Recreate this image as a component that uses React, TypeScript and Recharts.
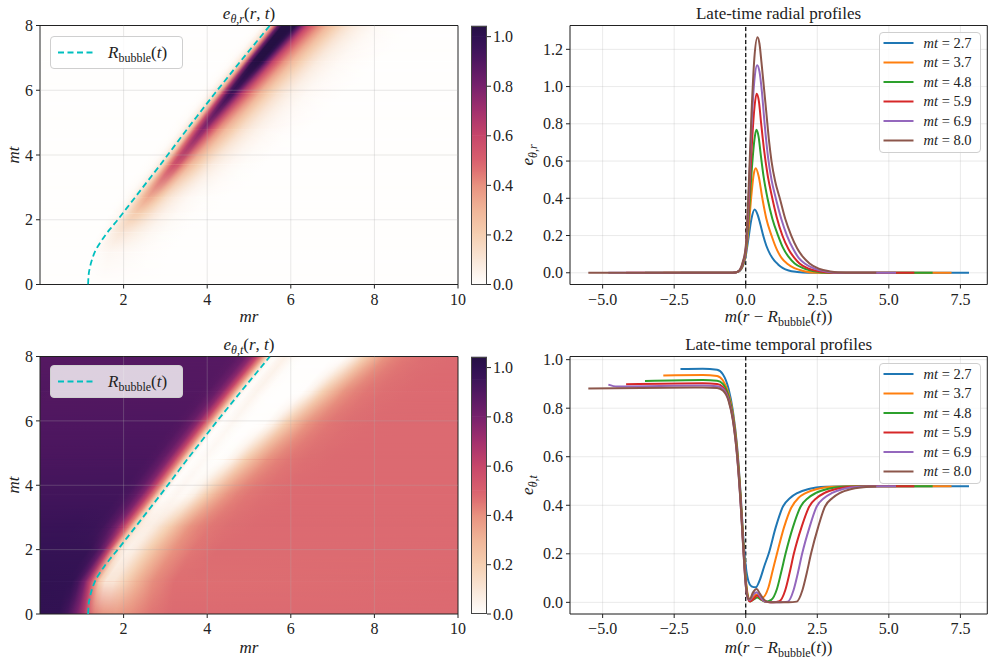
import React from "react";
import {
  ComposedChart,
  LineChart,
  BarChart,
  Bar,
  Line,
  XAxis,
  YAxis,
  CartesianGrid,
  ReferenceArea,
  ReferenceLine,
} from "recharts";

const SERIF = "'Liberation Serif', 'DejaVu Serif', serif";
const INK = "#222222";

// bubble wall trajectory R_bubble(t)
const BUBBLE_T = [0, 0.25, 0.5, 0.75, 1.0, 1.25, 1.5, 1.75, 2.0, 2.35, 2.7, 3.2, 3.7, 4.25, 4.8, 5.35, 5.9, 6.4, 6.9, 7.45, 8.0];
const BUBBLE_R = [1.15, 1.16, 1.19, 1.24, 1.31, 1.42, 1.55, 1.7, 1.86, 2.07, 2.28, 2.58, 2.88, 3.2, 3.52, 3.85, 4.18, 4.49, 4.8, 5.15, 5.5];

const PROFILE_TIMES = [2.7, 3.7, 4.8, 5.9, 6.9, 8.0];
const PROFILE_WALL = [2.28, 2.88, 3.52, 4.18, 4.8, 5.5];
const PROFILE_COLORS = ["#1f77b4", "#ff7f0e", "#2ca02c", "#d62728", "#9467bd", "#8c564b"];

// e_{theta,r} radial profiles vs m(r - R_bubble)
const RAD_X_27 = [-2.28, -0.45, -0.3, -0.2, -0.1, 0, 0.1, 0.2, 0.31, 0.42, 0.52, 0.61, 0.72, 0.85, 1.0, 1.13, 1.3, 1.5, 1.8, 2.2, 7.8];
const RAD_V_27 = [0, 0, 0.004, 0.012, 0.035, 0.09, 0.19, 0.29, 0.34, 0.31, 0.255, 0.2, 0.145, 0.1, 0.065, 0.045, 0.025, 0.012, 0.004, 0, 0];
const RAD_X_37 = [-2.88, -0.45, -0.3, -0.2, -0.1, 0, 0.1, 0.2, 0.28, 0.35, 0.45, 0.58, 0.72, 0.9, 1.1, 1.25, 1.44, 1.7, 2.0, 2.5, 7.19];
const RAD_V_37 = [0, 0, 0.004, 0.013, 0.04, 0.1, 0.24, 0.42, 0.53, 0.562, 0.52, 0.4, 0.29, 0.2, 0.12, 0.08, 0.05, 0.025, 0.01, 0, 0];
const RAD_X_48 = [-3.52, -0.45, -0.3, -0.2, -0.1, 0, 0.1, 0.2, 0.3, 0.37, 0.45, 0.52, 0.62, 0.76, 0.93, 1.13, 1.3, 1.5, 1.71, 2.0, 2.4, 2.9, 6.53];
const RAD_V_48 = [0, 0, 0.004, 0.014, 0.045, 0.11, 0.29, 0.53, 0.71, 0.768, 0.73, 0.64, 0.52, 0.4, 0.29, 0.2, 0.135, 0.085, 0.05, 0.025, 0.008, 0, 0];
const RAD_X_59 = [-4.18, -0.45, -0.3, -0.2, -0.1, 0, 0.1, 0.2, 0.3, 0.38, 0.46, 0.54, 0.64, 0.77, 0.9, 1.08, 1.28, 1.5, 1.7, 1.88, 2.2, 2.6, 3.1, 5.89];
const RAD_V_59 = [0, 0, 0.004, 0.015, 0.05, 0.12, 0.34, 0.65, 0.88, 0.961, 0.92, 0.8, 0.66, 0.52, 0.42, 0.3, 0.2, 0.125, 0.08, 0.05, 0.022, 0.007, 0, 0];
const RAD_X_69 = [-4.8, -0.45, -0.3, -0.2, -0.1, 0, 0.1, 0.2, 0.3, 0.4, 0.48, 0.56, 0.66, 0.78, 0.9, 1.05, 1.24, 1.44, 1.65, 1.85, 2.06, 2.4, 2.8, 3.3, 5.25];
const RAD_V_69 = [0, 0, 0.004, 0.016, 0.055, 0.13, 0.4, 0.78, 1.03, 1.115, 1.08, 0.98, 0.8, 0.62, 0.5, 0.4, 0.29, 0.2, 0.13, 0.08, 0.05, 0.022, 0.007, 0, 0];
const RAD_X_80 = [-5.5, -0.45, -0.3, -0.2, -0.1, 0, 0.1, 0.2, 0.3, 0.41, 0.48, 0.55, 0.62, 0.72, 0.82, 0.9, 1.03, 1.19, 1.38, 1.59, 1.8, 2.0, 2.23, 2.55, 2.95, 3.5, 4.56];
const RAD_V_80 = [0, 0, 0.004, 0.017, 0.06, 0.14, 0.45, 0.85, 1.15, 1.265, 1.23, 1.13, 1.02, 0.86, 0.7, 0.6, 0.49, 0.4, 0.29, 0.2, 0.13, 0.085, 0.05, 0.022, 0.007, 0, 0];

// e_{theta,t} temporal profiles vs m(r - R_bubble)
const TMP_X_27 = [-2.28, -1.5, -1.0, -0.8, -0.6, -0.45, -0.3, -0.18, -0.08, 0, 0.1, 0.2, 0.35, 0.5, 0.65, 0.8, 1.05, 1.3, 1.55, 1.8, 2.2, 2.8, 3.5, 7.8];
const TMP_V_27 = [0.962, 0.963, 0.958, 0.94, 0.88, 0.79, 0.64, 0.45, 0.26, 0.15, 0.085, 0.066, 0.062, 0.095, 0.15, 0.2, 0.31, 0.395, 0.43, 0.45, 0.467, 0.476, 0.478, 0.478];
const TMP_X_37 = [-2.88, -1.5, -1.0, -0.8, -0.6, -0.45, -0.3, -0.18, -0.08, 0, 0.08, 0.15, 0.25, 0.38, 0.5, 0.59, 0.79, 0.94, 1.09, 1.34, 1.59, 1.84, 2.09, 2.49, 3.09, 3.8, 7.19];
const TMP_V_37 = [0.935, 0.937, 0.933, 0.915, 0.86, 0.78, 0.63, 0.44, 0.24, 0.1, 0.025, 0.008, 0.02, 0.032, 0.02, 0.02, 0.06, 0.13, 0.2, 0.31, 0.39, 0.43, 0.45, 0.467, 0.476, 0.478, 0.478];
const TMP_X_48 = [-3.52, -1.5, -1.0, -0.8, -0.6, -0.45, -0.3, -0.18, -0.08, 0, 0.08, 0.15, 0.28, 0.4, 0.55, 0.7, 0.89, 1.09, 1.24, 1.39, 1.65, 1.92, 2.18, 2.44, 2.85, 3.45, 4.2, 6.53];
const TMP_V_48 = [0.912, 0.916, 0.913, 0.9, 0.85, 0.77, 0.62, 0.43, 0.23, 0.09, 0.02, 0.004, 0.012, 0.02, 0.01, 0.002, 0.01, 0.055, 0.125, 0.2, 0.31, 0.395, 0.43, 0.45, 0.467, 0.476, 0.478, 0.478];
const TMP_X_59 = [-4.18, -1.5, -1.0, -0.8, -0.6, -0.45, -0.3, -0.18, -0.08, 0, 0.08, 0.15, 0.28, 0.4, 0.55, 0.75, 0.95, 1.18, 1.38, 1.53, 1.68, 1.95, 2.22, 2.48, 2.74, 3.15, 3.75, 4.5, 5.89];
const TMP_V_59 = [0.899, 0.903, 0.9, 0.888, 0.84, 0.76, 0.61, 0.42, 0.22, 0.08, 0.015, 0.003, 0.015, 0.028, 0.012, 0.001, 0, 0.005, 0.05, 0.12, 0.2, 0.31, 0.395, 0.43, 0.45, 0.467, 0.476, 0.478, 0.478];
const TMP_X_69 = [-4.8, -4.5, -1.5, -1.0, -0.8, -0.6, -0.45, -0.3, -0.18, -0.08, 0, 0.08, 0.15, 0.25, 0.38, 0.5, 0.65, 0.9, 1.2, 1.47, 1.67, 1.82, 1.97, 2.23, 2.48, 2.74, 3.0, 3.4, 4.0, 4.7, 5.25];
const TMP_V_69 = [0.897, 0.889, 0.893, 0.89, 0.88, 0.835, 0.755, 0.6, 0.41, 0.21, 0.07, 0.015, 0.01, 0.03, 0.042, 0.025, 0.005, 0, 0, 0.003, 0.05, 0.12, 0.2, 0.31, 0.395, 0.43, 0.45, 0.467, 0.476, 0.478, 0.478];
const TMP_X_80 = [-5.5, -1.5, -1.0, -0.8, -0.6, -0.45, -0.3, -0.18, -0.08, 0, 0.08, 0.15, 0.25, 0.38, 0.5, 0.65, 0.85, 1.2, 1.5, 1.78, 1.98, 2.13, 2.28, 2.53, 2.77, 3.03, 3.28, 3.7, 4.3, 4.56];
const TMP_V_80 = [0.881, 0.885, 0.883, 0.873, 0.83, 0.75, 0.6, 0.41, 0.21, 0.07, 0.015, 0.015, 0.04, 0.055, 0.035, 0.01, 0, 0, 0, 0.003, 0.05, 0.12, 0.2, 0.31, 0.395, 0.43, 0.45, 0.467, 0.476, 0.477];

// early-time rows of the heatmaps (before the first plotted profile)
const RAD_EARLY_T = [0, 1.0, 1.6, 2.2];
const RAD_EARLY_WALL = [1.15, 1.31, 1.6, 1.98];
const RAD_EARLY_X_0 = [-1.15, 8.85];
const RAD_EARLY_V_0 = [0, 0];
const RAD_EARLY_X_1 = [-1.31, -0.1, 0.1, 0.35, 0.6, 0.9, 1.3, 1.8, 8.69];
const RAD_EARLY_V_1 = [0, 0, 0.012, 0.028, 0.025, 0.015, 0.006, 0, 0];
const RAD_EARLY_X_2 = [-1.6, -0.2, 0, 0.15, 0.32, 0.5, 0.75, 1.05, 1.4, 1.9, 8.4];
const RAD_EARLY_V_2 = [0, 0, 0.025, 0.07, 0.1, 0.09, 0.06, 0.03, 0.01, 0, 0];
const RAD_EARLY_X_3 = [-1.98, -0.3, -0.1, 0, 0.1, 0.2, 0.3, 0.42, 0.6, 0.8, 1.0, 1.3, 1.7, 2.2, 8.02];
const RAD_EARLY_V_3 = [0, 0, 0.02, 0.055, 0.12, 0.18, 0.21, 0.2, 0.15, 0.09, 0.05, 0.02, 0.005, 0, 0];

const TMP_EARLY_T = [0, 1.0, 2.0];
const TMP_EARLY_WALL = [1.15, 1.31, 1.86];
const TMP_EARLY_X_0 = [-1.15, -0.7, -0.5, -0.28, -0.11, 0, 0.15, 0.35, 0.65, 1.0, 1.5, 2.0, 8.85];
const TMP_EARLY_V_0 = [0.99, 0.985, 0.93, 0.8, 0.67, 0.52, 0.43, 0.39, 0.37, 0.4, 0.45, 0.475, 0.478];
const TMP_EARLY_X_1 = [-1.31, -0.55, -0.4, -0.25, -0.12, 0, 0.1, 0.25, 0.45, 0.7, 1.0, 1.4, 1.9, 8.69];
const TMP_EARLY_V_1 = [0.99, 0.985, 0.93, 0.8, 0.62, 0.4, 0.22, 0.1, 0.1, 0.18, 0.3, 0.41, 0.465, 0.478];
const TMP_EARLY_X_2 = [-1.86, -0.7, -0.5, -0.35, -0.2, -0.08, 0, 0.1, 0.25, 0.4, 0.55, 0.75, 1.0, 1.35, 1.8, 2.4, 8.14];
const TMP_EARLY_V_2 = [0.975, 0.972, 0.92, 0.82, 0.58, 0.3, 0.17, 0.08, 0.05, 0.07, 0.12, 0.2, 0.3, 0.4, 0.45, 0.472, 0.478];

// colour scale shared by both heatmaps
const VMAX = 1.045;
const CMAP_LEVELS = [0, 0.1, 0.2, 0.3, 0.4, 0.45, 0.5, 0.6, 0.7, 0.8, 0.9, 0.95, 1.0, 1.045];
const CMAP_COLORS = ["#fffefd", "#f9e6d7", "#f5cfb1", "#f0b598", "#e8917f", "#e07674", "#d8606e", "#c6466a", "#a2306d", "#76216c", "#4f1760", "#3c1459", "#2e1150", "#251043"];
const CBAR_TICKS = [0, 0.2, 0.4, 0.6, 0.8, 1.0];

const R_DOMAIN: [number, number] = [0, 10];
const T_DOMAIN: [number, number] = [0, 8];
const PROFILE_X_DOMAIN: [number, number] = [-6.14, 8.44];
const PROFILE_X_TICKS = [-5, -2.5, 0, 2.5, 5, 7.5];

type Pt = { x: number; v: number };
type HeatKey = { t: number; wall: number; xs: number[]; vs: number[] };

const zip = (xs: number[], vs: number[]): Pt[] => xs.map((x, i) => ({ x, v: vs[i] }));

const RAD_X = [RAD_X_27, RAD_X_37, RAD_X_48, RAD_X_59, RAD_X_69, RAD_X_80];
const RAD_V = [RAD_V_27, RAD_V_37, RAD_V_48, RAD_V_59, RAD_V_69, RAD_V_80];
const TMP_X = [TMP_X_27, TMP_X_37, TMP_X_48, TMP_X_59, TMP_X_69, TMP_X_80];
const TMP_V = [TMP_V_27, TMP_V_37, TMP_V_48, TMP_V_59, TMP_V_69, TMP_V_80];

const radialSeries = RAD_X.map((xs, i) => zip(xs, RAD_V[i]));
const temporalSeries = TMP_X.map((xs, i) => zip(xs, TMP_V[i]));
const bubble = BUBBLE_T.map((t, i) => ({ r: BUBBLE_R[i], t }));

const RAD_EARLY_X = [RAD_EARLY_X_0, RAD_EARLY_X_1, RAD_EARLY_X_2, RAD_EARLY_X_3];
const RAD_EARLY_V = [RAD_EARLY_V_0, RAD_EARLY_V_1, RAD_EARLY_V_2, RAD_EARLY_V_3];
const TMP_EARLY_X = [TMP_EARLY_X_0, TMP_EARLY_X_1, TMP_EARLY_X_2];
const TMP_EARLY_V = [TMP_EARLY_V_0, TMP_EARLY_V_1, TMP_EARLY_V_2];

const radialKeys: HeatKey[] = [
  ...RAD_EARLY_T.map((t, i) => ({ t, wall: RAD_EARLY_WALL[i], xs: RAD_EARLY_X[i], vs: RAD_EARLY_V[i] })),
  ...PROFILE_TIMES.map((t, i) => ({ t, wall: PROFILE_WALL[i], xs: RAD_X[i], vs: RAD_V[i] })),
];
const temporalKeys: HeatKey[] = [
  ...TMP_EARLY_T.map((t, i) => ({ t, wall: TMP_EARLY_WALL[i], xs: TMP_EARLY_X[i], vs: TMP_EARLY_V[i] })),
  ...PROFILE_TIMES.map((t, i) => ({ t, wall: PROFILE_WALL[i], xs: TMP_X[i], vs: TMP_V[i] })),
];

// colorbar as one stacked column, one segment per colour-map interval
const cbarRow: Record<string, number | string> = { name: "cbar" };
CMAP_LEVELS.slice(1).forEach((l, i) => {
  cbarRow[`s${i}`] = l - CMAP_LEVELS[i];
});
const cbarData = [cbarRow];

function hexRgb(h: string) {
  const n = parseInt(h.slice(1), 16);
  return [(n >> 16) & 255, (n >> 8) & 255, n & 255];
}

function cmap(v: number) {
  const c = Math.max(0, Math.min(VMAX, v));
  let i = 0;
  while (i < CMAP_LEVELS.length - 2 && c > CMAP_LEVELS[i + 1]) i++;
  const f = (c - CMAP_LEVELS[i]) / (CMAP_LEVELS[i + 1] - CMAP_LEVELS[i]);
  const a = hexRgb(CMAP_COLORS[i]);
  const b = hexRgb(CMAP_COLORS[i + 1]);
  const m = a.map((x, k) => Math.round(x + (b[k] - x) * f));
  return `rgb(${m[0]},${m[1]},${m[2]})`;
}

const fmt1 = (v: number) => v.toFixed(1).replace("-", "\u2212");
const tickFont = { fontFamily: SERIF, fontSize: 16, fill: INK };

// One time band of the heatmap: the profile of the lower row, blended upward
// into the profile of the upper row; both are sheared to follow the wall.
function heatStrip(lo: HeatKey, hi: HeatKey, uid: string, isTop: boolean) {
  return (p: any) => {
    const { x, y, width, height } = p;
    if (!(width > 0) || !(height > 0)) return <g />;
    const ppu = width / (R_DOMAIN[1] - R_DOMAIN[0]);
    const yb = y + height;
    const xb = x + (lo.wall - R_DOMAIN[0]) * ppu;
    const xt = x + (hi.wall - R_DOMAIN[0]) * ppu;
    const k = (xt - xb) / height;
    const u0 = xb + k * yb;
    const skew = (Math.atan(-k) * 180) / Math.PI;
    const grad = (key: HeatKey, id: string) => {
      const a = key.xs[0];
      const b = key.xs[key.xs.length - 1];
      return (
        <linearGradient
          id={id}
          gradientUnits="userSpaceOnUse"
          x1={u0 + a * ppu}
          y1={0}
          x2={u0 + b * ppu}
          y2={0}
          gradientTransform={`skewX(${skew})`}
        >
          {key.xs.map((xv, i) => (
            <stop key={i} offset={(xv - a) / (b - a)} stopColor={cmap(key.vs[i])} />
          ))}
        </linearGradient>
      );
    };
    const over = isTop ? 0 : 0.7;
    return (
      <g>
        <defs>
          {grad(lo, `${uid}-a`)}
          {grad(hi, `${uid}-b`)}
          <linearGradient id={`${uid}-f`} x1="0" y1="1" x2="0" y2="0">
            <stop offset="0" stopColor="#000" />
            <stop offset="1" stopColor="#fff" />
          </linearGradient>
          <mask id={`${uid}-m`} maskContentUnits="objectBoundingBox">
            <rect x="0" y="0" width="1" height="1" fill={`url(#${uid}-f)`} />
          </mask>
        </defs>
        <rect x={x} y={y - over} width={width} height={height + over} fill={`url(#${uid}-a)`} />
        <rect x={x} y={y} width={width} height={height} fill={`url(#${uid}-b)`} mask={`url(#${uid}-m)`} />
      </g>
    );
  };
}

// a colorbar segment shaded between the two colours of its interval
function cbarSegment(i: number, uid: string) {
  return (p: any) => {
    const { x, y, width, height } = p;
    const id = `${uid}-g${i}`;
    const top = i === CMAP_LEVELS.length - 2;
    return (
      <g>
        <defs>
          <linearGradient id={id} x1="0" y1="1" x2="0" y2="0">
            <stop offset="0" stopColor={CMAP_COLORS[i]} />
            <stop offset="1" stopColor={CMAP_COLORS[i + 1]} />
          </linearGradient>
        </defs>
        <rect x={x} y={top ? y : y - 0.6} width={width} height={top ? height : height + 0.6} fill={`url(#${id})`} />
      </g>
    );
  };
}

function HeatPanel({ top, height, keys, uid }: { top: number; height: number; keys: HeatKey[]; uid: string }) {
  const strips = keys.slice(1).map((hi, i) => ({ lo: keys[i], hi }));
  return (
    <div style={{ position: "absolute", left: 0, top }}>
      <ComposedChart width={470} height={height} margin={{ top: 25.5, right: 12, bottom: 0, left: 0 }}>
        <XAxis
          type="number"
          dataKey="r"
          domain={R_DOMAIN}
          ticks={[2, 4, 6, 8, 10]}
          allowDataOverflow
          height={35.5}
          axisLine={false}
          tickLine={{ stroke: INK }}
          tickSize={4}
          tickMargin={5}
          tick={tickFont}
        />
        <YAxis
          type="number"
          domain={T_DOMAIN}
          ticks={[0, 2, 4, 6, 8]}
          allowDataOverflow
          width={40}
          axisLine={false}
          tickLine={{ stroke: INK }}
          tickSize={4}
          tickMargin={3}
          tick={tickFont}
        />
        {strips.map((s, i) => (
          <ReferenceArea
            key={`s${i}`}
            x1={R_DOMAIN[0]}
            x2={R_DOMAIN[1]}
            y1={s.lo.t}
            y2={s.hi.t}
            ifOverflow="visible"
            shape={heatStrip(s.lo, s.hi, `${uid}-${i}`, i === strips.length - 1)}
          />
        ))}
        {[2, 4, 6, 8].map((r) => (
          <ReferenceLine key={`gx${r}`} x={r} stroke="#b0b0b0" strokeOpacity={0.32} strokeWidth={0.9} />
        ))}
        {[2, 4, 6].map((t) => (
          <ReferenceLine key={`gy${t}`} y={t} stroke="#b0b0b0" strokeOpacity={0.32} strokeWidth={0.9} />
        ))}
        <Line
          data={bubble}
          dataKey="t"
          type="monotone"
          stroke="#00bfbf"
          strokeWidth={1.8}
          strokeDasharray="6 3.5"
          dot={false}
          activeDot={false}
          isAnimationActive={false}
        />
        <ReferenceArea x1={R_DOMAIN[0]} x2={R_DOMAIN[1]} y1={T_DOMAIN[0]} y2={T_DOMAIN[1]} fill="none" fillOpacity={0} stroke={INK} strokeWidth={1} />
      </ComposedChart>
    </div>
  );
}

function ColorBar({ top, height, uid }: { top: number; height: number; uid: string }) {
  return (
    <div style={{ position: "absolute", left: 455, top }}>
      <BarChart
        width={80}
        height={height}
        data={cbarData}
        margin={{ top: 25.5, right: 8, bottom: 35.5, left: 16 }}
        barCategoryGap={0}
      >
        <XAxis type="category" dataKey="name" hide />
        <YAxis
          type="number"
          orientation="right"
          domain={[0, VMAX]}
          ticks={CBAR_TICKS}
          tickFormatter={fmt1}
          allowDataOverflow
          width={40}
          axisLine={false}
          tickLine={{ stroke: INK }}
          tickSize={4}
          tickMargin={2}
          tick={tickFont}
        />
        {CMAP_LEVELS.slice(1).map((_, i) => (
          <Bar key={i} dataKey={`s${i}`} stackId="cb" isAnimationActive={false} shape={cbarSegment(i, uid)} />
        ))}
      </BarChart>
      <div
        style={{
          position: "absolute",
          left: 16,
          top: 25.5,
          width: 16,
          height: height - 61,
          boxSizing: "border-box",
          border: "1px solid #444",
          pointerEvents: "none",
        }}
      />
    </div>
  );
}

function ProfilePanel({
  top,
  height,
  series,
  yDomain,
  yTicks,
}: {
  top: number;
  height: number;
  series: Pt[][];
  yDomain: [number, number];
  yTicks: number[];
}) {
  return (
    <div style={{ position: "absolute", left: 520, top }}>
      <LineChart width={475} height={height} margin={{ top: 25.5, right: 7.7, bottom: 0, left: 0 }}>
        <CartesianGrid stroke="#b0b0b0" strokeOpacity={0.3} strokeWidth={0.9} />
        <XAxis
          type="number"
          dataKey="x"
          domain={PROFILE_X_DOMAIN}
          ticks={PROFILE_X_TICKS}
          tickFormatter={fmt1}
          allowDataOverflow
          height={35.5}
          axisLine={false}
          tickLine={{ stroke: INK }}
          tickSize={4}
          tickMargin={5}
          tick={tickFont}
        />
        <YAxis
          type="number"
          domain={yDomain}
          ticks={yTicks}
          tickFormatter={fmt1}
          allowDataOverflow
          width={50}
          axisLine={false}
          tickLine={{ stroke: INK }}
          tickSize={4}
          tickMargin={3}
          tick={tickFont}
        />
        <ReferenceLine x={0} stroke="#000" strokeWidth={1.2} strokeDasharray="4 2.5" />
        {series.map((s, i) => (
          <Line
            key={PROFILE_TIMES[i]}
            data={s}
            dataKey="v"
            type="monotone"
            stroke={PROFILE_COLORS[i]}
            strokeWidth={2}
            dot={false}
            activeDot={false}
            isAnimationActive={false}
          />
        ))}
        <ReferenceArea
          x1={PROFILE_X_DOMAIN[0]}
          x2={PROFILE_X_DOMAIN[1]}
          y1={yDomain[0]}
          y2={yDomain[1]}
          fill="none"
          fillOpacity={0}
          stroke={INK}
          strokeWidth={1}
        />
      </LineChart>
    </div>
  );
}

function BubbleLegend({ top }: { top: number }) {
  return (
    <div
      style={{
        position: "absolute",
        left: 49.5,
        top,
        width: 133,
        height: 33,
        boxSizing: "border-box",
        border: "1px solid #cfcfcf",
        borderRadius: 4,
        background: "rgba(255,255,255,0.8)",
      }}
    >
      <svg width={131} height={31} style={{ position: "absolute", left: 0, top: 0 }}>
        <line x1={7} x2={42} y1={15.5} y2={15.5} stroke="#00bfbf" strokeWidth={1.8} strokeDasharray="6 3.5" />
        <text x={57} y={21} fontFamily={SERIF} fontSize={17} fill={INK}>
          <tspan fontStyle="italic">R</tspan>
          <tspan fontSize={12} dy={3.5}>bubble</tspan>
          <tspan dy={-3.5}>(</tspan>
          <tspan fontStyle="italic">t</tspan>
          <tspan>)</tspan>
        </text>
      </svg>
    </div>
  );
}

function ProfileLegend({ top }: { top: number }) {
  return (
    <div
      style={{
        position: "absolute",
        left: 879,
        top,
        width: 102,
        height: 121,
        boxSizing: "border-box",
        border: "1px solid #cfcfcf",
        borderRadius: 4,
        background: "rgba(255,255,255,0.8)",
      }}
    >
      <svg width={100} height={119} style={{ position: "absolute", left: 0, top: 0 }}>
        {PROFILE_TIMES.map((t, i) => {
          const cy = 10 + 19.5 * i;
          return (
            <g key={t}>
              <line x1={3.5} x2={33.5} y1={cy} y2={cy} stroke={PROFILE_COLORS[i]} strokeWidth={2} />
              <text x={43.5} y={cy + 4.5} fontFamily={SERIF} fontSize={14.5} fill={INK}>
                <tspan fontStyle="italic">mt</tspan>
                <tspan> = {t.toFixed(1)}</tspan>
              </text>
            </g>
          );
        })}
      </svg>
    </div>
  );
}

function Sub({ main, sub }: { main: string; sub: string }) {
  return (
    <>
      <tspan fontStyle="italic">{main}</tspan>
      <tspan fontSize={12} dy={3.5}>
        <tspan fontStyle="italic">θ</tspan>,<tspan fontStyle="italic">{sub}</tspan>
      </tspan>
    </>
  );
}

function Labels() {
  const t = { fontFamily: SERIF, fill: INK } as const;
  const shiftLabel = (y: number) => (
    <text x={778.6} y={y} textAnchor="middle" fontSize={17} {...t}>
      <tspan fontStyle="italic">m</tspan>
      <tspan>(</tspan>
      <tspan fontStyle="italic">r</tspan>
      <tspan> − </tspan>
      <tspan fontStyle="italic">R</tspan>
      <tspan fontSize={12} dy={3.5}>bubble</tspan>
      <tspan dy={-3.5}>(</tspan>
      <tspan fontStyle="italic">t</tspan>
      <tspan>))</tspan>
    </text>
  );
  const heatTitle = (y: number, sub: string) => (
    <text x={249} y={y} textAnchor="middle" fontSize={17} {...t}>
      <Sub main="e" sub={sub} />
      <tspan dy={-3.5}>(</tspan>
      <tspan fontStyle="italic">r</tspan>
      <tspan>, </tspan>
      <tspan fontStyle="italic">t</tspan>
      <tspan>)</tspan>
    </text>
  );
  return (
    <svg width={995} height={666} style={{ position: "absolute", left: 0, top: 0, pointerEvents: "none" }}>
      {heatTitle(19, "r")}
      {heatTitle(350, "t")}
      <text x={778.6} y={19} textAnchor="middle" fontSize={17} {...t}>
        Late-time radial profiles
      </text>
      <text x={778.6} y={350} textAnchor="middle" fontSize={17} {...t}>
        Late-time temporal profiles
      </text>
      <text x={249} y={322} textAnchor="middle" fontSize={17} fontStyle="italic" {...t}>
        mr
      </text>
      <text x={249} y={653} textAnchor="middle" fontSize={17} fontStyle="italic" {...t}>
        mr
      </text>
      {shiftLabel(322)}
      {shiftLabel(653)}
      <text transform="translate(19,155) rotate(-90)" textAnchor="middle" fontSize={17} fontStyle="italic" {...t}>
        mt
      </text>
      <text transform="translate(19,485) rotate(-90)" textAnchor="middle" fontSize={17} fontStyle="italic" {...t}>
        mt
      </text>
      <text transform="translate(533,155) rotate(-90)" textAnchor="middle" fontSize={17} {...t}>
        <Sub main="e" sub="r" />
      </text>
      <text transform="translate(533,485) rotate(-90)" textAnchor="middle" fontSize={17} {...t}>
        <Sub main="e" sub="t" />
      </text>
    </svg>
  );
}

export default function App() {
  return (
    <div style={{ position: "relative", width: 995, height: 666, background: "#fff", overflow: "hidden" }}>
      <style>{"body{margin:0}"}</style>
      <HeatPanel top={0} height={320} keys={radialKeys} uid="hr" />
      <ColorBar top={0} height={320} uid="cbr" />
      <ProfilePanel
        top={0}
        height={320}
        series={radialSeries}
        yDomain={[-0.063, 1.328]}
        yTicks={[0, 0.2, 0.4, 0.6, 0.8, 1.0, 1.2]}
      />
      <HeatPanel top={331} height={318.5} keys={temporalKeys} uid="ht" />
      <ColorBar top={331} height={318.5} uid="cbt" />
      <ProfilePanel
        top={331}
        height={318.5}
        series={temporalSeries}
        yDomain={[-0.048, 1.013]}
        yTicks={[0, 0.2, 0.4, 0.6, 0.8, 1.0]}
      />
      <BubbleLegend top={36} />
      <BubbleLegend top={364.5} />
      <ProfileLegend top={32.3} />
      <ProfileLegend top={363.3} />
      <Labels />
    </div>
  );
}
